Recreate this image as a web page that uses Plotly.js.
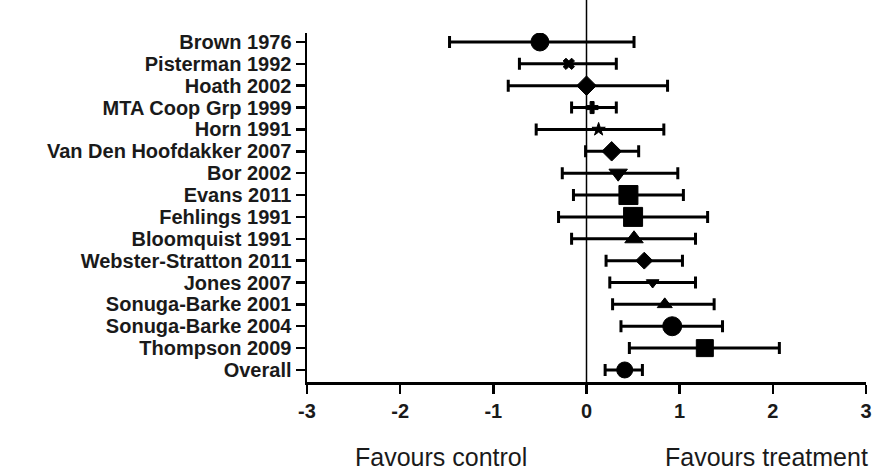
<!DOCTYPE html>
<html>
<head>
<meta charset="utf-8">
<script src="https://cdn.plot.ly/plotly-3.0.1.min.js"></script>
<style>html,body{margin:0;padding:0;background:#fff;}#chart{width:876px;height:474px;}</style>
</head>
<body>
<div id="chart"></div>
<script>
// Data (top to bottom)
const studies = ["Brown 1976","Pisterman 1992","Hoath 2002","MTA Coop Grp 1999","Horn 1991","Van Den Hoofdakker 2007","Bor 2002","Evans 2011","Fehlings 1991","Bloomquist 1991","Webster-Stratton 2011","Jones 2007","Sonuga-Barke 2001","Sonuga-Barke 2004","Thompson 2009","Overall"];
const effect = [-0.50,-0.19,0.00,0.06,0.13,0.27,0.34,0.45,0.50,0.51,0.62,0.71,0.84,0.92,1.27,0.41];
const lower  = [-1.47,-0.72,-0.84,-0.16,-0.54,-0.01,-0.26,-0.14,-0.30,-0.16,0.21,0.25,0.28,0.37,0.46,0.20];
const upper  = [0.51,0.32,0.87,0.32,0.83,0.56,0.98,1.04,1.30,1.17,1.03,1.17,1.37,1.46,2.07,0.60];
const xTicks = [-3,-2,-1,0,1,2,3];

// Styles
const symbols = ["circle","x","diamond","cross","star","diamond","triangle-down","square","square","triangle-up","diamond","triangle-down","triangle-up","circle","square","circle"];
const sizes   = [18,10,15,10,10,15,16,19,19,16,13,11,13,19,17,16];

const n = studies.length;
const ypos = studies.map((s,i)=> n-1-i);

const trace = {
  type: "scatter", mode: "markers",
  x: effect, y: ypos,
  marker: {symbol: symbols, size: sizes, color: "#000000", opacity: 1, line: {width: 1, color: "#000000"}},
  error_x: {
    type: "data",
    array: upper.map((u,i)=> u - effect[i]),
    arrayminus: effect.map((e,i)=> e - lower[i]),
    color: "#000", thickness: 3, width: 6
  },
  hoverinfo: "skip", showlegend: false
};

const layout = {
  width: 876, height: 474,
  margin: {l: 307, r: 10, t: 33, b: 92},
  paper_bgcolor: "#fff", plot_bgcolor: "#fff",
  font: {family: "Liberation Sans, Arial, sans-serif", color: "#1a1a1a"},
  xaxis: {
    range: [-3, 3], tickvals: xTicks, ticktext: xTicks.map(String),
    showgrid: false, zeroline: false,
    showline: true, linecolor: "#000", linewidth: 2.5,
    ticks: "outside", ticklen: 9, tickwidth: 2.5, tickcolor: "#000",
    tickfont: {size: 20, family: "Liberation Sans, Arial, sans-serif", weight: "bold", color: "#1a1a1a"},
    fixedrange: true
  },
  yaxis: {
    range: [-0.55, n - 1 + 0.41],
    tickvals: ypos, ticktext: studies,
    showgrid: false, zeroline: false,
    showline: true, linecolor: "#000", linewidth: 2.5,
    ticks: "outside", ticklen: 9, tickwidth: 2.5, tickcolor: "#000",
    tickfont: {size: 20, family: "Liberation Sans, Arial, sans-serif", weight: "bold", color: "#1a1a1a"},
    fixedrange: true
  },
  shapes: [{
    type: "line", xref: "x", yref: "paper", x0: 0, x1: 0, y0: 0, y1: 1.095,
    line: {color: "#000", width: 1.5}, layer: "below"
  }],
  annotations: [
    {text: "Favours control", xref: "paper", yref: "paper", x: 0.24, y: -0.215, showarrow: false,
     xanchor: "center", yanchor: "middle", font: {size: 25, color: "#1a1a1a"}},
    {text: "Favours treatment", xref: "paper", yref: "paper", x: 0.822, y: -0.215, showarrow: false,
     xanchor: "center", yanchor: "middle", font: {size: 25, color: "#1a1a1a"}}
  ]
};

Plotly.newPlot("chart", [trace], layout, {displayModeBar: false, staticPlot: true});
</script>
</body>
</html>
